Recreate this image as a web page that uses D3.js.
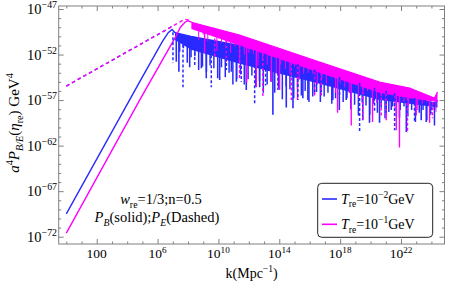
<!DOCTYPE html>
<html>
<head>
<meta charset="utf-8">
<script src="https://cdn.jsdelivr.net/npm/d3@7"></script>
<style>
  body { margin: 0; background: #fff; }
  svg { display: block; font-family: "Liberation Serif", "DejaVu Serif", serif; }
</style>
</head>
<body>
<div id="chart"></div>
<script>
// all values are log10 exponents: [log10 k, log10 a^4 P]
// rising parts (before the oscillations)
const riseBlueB = [[0, -69.5], [4.82, -55.0], [6.3, -50.6], [6.7, -49.6], [6.95, -49.25], [7.15, -49.6]]
const riseMagB = [[0, -71.6], [4.82, -57.0], [7.2, -50.0], [7.5, -49.0], [7.8, -48.45], [8.0, -48.3], [8.22, -48.45]]
const riseMagE = [[0, -55.46], [7.78, -48.13], [8.0, -48.2], [8.22, -48.45]]
const riseBlueE = [[0, -55.46], [6.9, -48.97], [7.05, -49.2]]

// oscillating part: upper envelope and lower edge of the dense band
const topMag = [[8.22, -48.45], [11.39, -49.86], [16.65, -52.82], [20.59, -55.02], [22.56, -55.68], [24.2, -56.78], [24.4, -56.12]]
const floorMag = [[8.22, -49.2], [11.39, -51.0], [16.65, -54.0], [20.59, -56.2], [22.56, -56.8], [24.4, -57.2]]
const topBlue = [[7.15, -49.6], [8.2, -50.0], [11.39, -51.0], [16.65, -53.8], [20.59, -55.8], [24.2, -57.3], [24.4, -57.0]]
const floorBlue = [[7.15, -50.4], [8.76, -52.05], [11.39, -53.0], [16.65, -55.2], [20.59, -57.0], [24.4, -57.8]]

// oscillation minima below the band: [log10 k, lowest log10 value]
const combBlue = [[7.2, -50.2], [7.45, -51.7], [7.7, -51.3], [7.95, -52.9], [8.2, -52.3], [8.45, -52.2], [8.7, -53.7],
  [8.95, -53.3], [9.2, -54.6], [9.45, -53.2], [9.7, -53.5], [9.95, -54.6], [10.2, -53.4], [10.45, -54.5], [10.7, -54.0],
  [10.95, -55.3], [11.2, -54.7], [11.45, -54.2], [11.7, -55.3], [11.95, -54.7], [12.2, -54.3], [12.45, -55.5],
  [12.7, -54.9], [12.95, -56.2], [13.2, -55.3], [13.45, -55.0], [13.7, -56.2], [13.95, -55.7], [14.2, -56.9],
  [14.45, -55.5], [14.7, -55.8], [14.95, -56.8], [15.2, -55.6], [15.45, -56.5], [15.7, -56.0], [15.95, -57.2],
  [16.2, -56.6], [16.45, -56.1], [16.7, -57.2], [16.95, -56.6], [17.2, -56.2], [17.45, -57.4], [17.7, -56.8],
  [17.95, -58.1], [18.2, -57.2], [18.45, -56.8], [18.7, -58.0], [18.95, -57.5], [19.2, -58.7], [19.45, -57.3],
  [19.7, -57.6], [19.95, -58.6], [20.2, -57.4], [20.45, -58.4], [20.7, -57.8], [20.95, -59.0], [21.2, -58.3],
  [21.45, -57.7], [21.7, -58.8], [21.95, -58.1], [22.2, -57.7], [22.45, -58.8], [22.7, -58.1], [22.95, -59.4],
  [23.2, -58.4], [23.45, -58.1], [23.7, -59.2], [23.95, -58.6], [24.2, -59.8]]
const combMag = [[8.4, -49.1], [8.7, -50.4], [9.0, -49.8], [9.3, -50.5], [9.6, -49.8], [9.9, -51.6], [10.2, -50.7],
  [10.5, -51.2], [10.8, -51.8], [11.1, -51.1], [11.4, -52.6], [11.7, -52.0], [12.0, -51.8], [12.3, -51.9], [12.6, -53.2],
  [12.9, -52.5], [13.2, -53.1], [13.5, -52.4], [13.8, -54.1], [14.1, -53.1], [14.4, -53.6], [14.7, -54.1], [15.0, -53.3],
  [15.3, -54.8], [15.6, -54.1], [15.9, -54.0], [16.2, -54.1], [16.5, -55.3], [16.8, -54.7], [17.1, -55.2], [17.4, -54.5],
  [17.7, -56.2], [18.0, -55.2], [18.3, -55.6], [18.6, -56.2], [18.9, -55.3], [19.2, -56.8], [19.5, -56.2], [19.8, -56.0],
  [20.1, -56.1], [20.4, -57.3], [20.7, -56.6], [21.0, -57.1], [21.3, -56.3], [21.6, -58.0], [21.9, -56.8], [22.2, -57.2],
  [22.5, -57.7], [22.8, -56.7], [23.1, -58.1], [23.4, -57.4], [23.7, -57.2], [24.0, -57.1], [24.3, -58.3]]

// deepest dips of each curve
const dipsBlueB = [[7.23, -52.8], [7.40, -53.9], [8.11, -53.4], [8.88, -53.5], [9.21, -53.9], [10.08, -54.8], [10.85, -53.9],
  [11.18, -55.0], [11.83, -55.9], [12.71, -55.6], [13.58, -58.6], [14.46, -57.8], [14.90, -57.9], [15.55, -56.8],
  [15.88, -57.0], [16.76, -56.1], [17.52, -57.0], [18.40, -57.0], [18.62, -56.2], [19.49, -59.2], [19.93, -59.5],
  [20.59, -59.5], [21.36, -58.1], [21.90, -58.9], [22.35, -60.5], [23.33, -59.2], [23.66, -59.4], [24.20, -58.1]]
const dipsBlueE = [[7.01, -52.9], [7.67, -55.6], [8.44, -53.2], [9.53, -55.6], [10.52, -53.7], [11.50, -55.0], [12.38, -57.5],
  [13.10, -55.4], [13.91, -55.9], [15.22, -57.0], [16.32, -56.2], [17.96, -56.7], [19.28, -60.6], [20.26, -58.4],
  [21.03, -58.4], [21.58, -60.3], [22.89, -59.5], [23.99, -58.4]]
const dipsMagB = [[9.09, -51.8], [10.52, -52.8], [11.85, -55.1], [12.49, -55.6], [13.48, -55.0], [14.02, -55.9], [15.20, -57.0],
  [16.32, -56.5], [17.83, -58.4], [18.73, -59.8], [20.13, -59.4], [21.03, -59.2], [21.69, -60.3], [21.90, -62.2],
  [23.00, -58.7], [23.88, -59.5]]
const dipsMagE = [[9.75, -52.4], [11.39, -54.8], [12.92, -56.7], [14.79, -57.0], [16.76, -56.7], [19.49, -59.2],
  [20.70, -58.7], [22.43, -60.6], [24.07, -59.0]]

const xMajor = [2, 6, 10, 14, 18, 22]
const yMajor = [-47, -52, -57, -62, -67, -72]
const legendItems = [
  { color: "#2a2aff", exp: "\u22122" },
  { color: "#ff00ff", exp: "\u22121" }
]

const W = 449, H = 289
const m = { left: 58.7, right: 444.5, top: 6, bottom: 244 }
const blue = "#2a2aff", mag = "#ff00ff", frame = "#808080"
const p10 = e => Math.pow(10, e)

const svg = d3.select("#chart").append("svg")
  .attr("width", W).attr("height", H)

const x = d3.scaleLog().domain([p10(-0.5), p10(24.86)]).range([m.left, m.right])
const y = d3.scaleLog().domain([p10(-72.8), p10(-46.67)]).range([m.bottom, m.top])

const line = d3.line().x(d => x(p10(d[0]))).y(d => y(p10(d[1])))

// value of a polyline at k (to hang the dips from the envelope)
function lookup(arr, k) {
  for (let i = 1; i < arr.length; i++) {
    if (k <= arr[i][0]) {
      const a = arr[i - 1], b = arr[i]
      return a[1] + (b[1] - a[1]) * (k - a[0]) / (b[0] - a[0])
    }
  }
  return arr[arr.length - 1][1]
}

svg.append("clipPath").attr("id", "clip").append("rect")
  .attr("x", m.left).attr("y", m.top).attr("width", m.right - m.left).attr("height", m.bottom - m.top)
const plot = svg.append("g").attr("clip-path", "url(#clip)")

function band(color, top, floor) {
  const area = d3.area()
    .x(d => x(p10(d[0])))
    .y0(d => y(p10(lookup(floor, d[0]))))
    .y1(d => y(p10(d[1])))
  plot.append("path").datum(top).attr("d", area).attr("fill", color)
  plot.append("path").datum(top).attr("d", line).attr("fill", "none").attr("stroke", color).attr("stroke-width", 1.2)
}

function dips(color, top, data, width, dashed) {
  plot.append("g").selectAll("line").data(data).join("line")
    .attr("x1", d => x(p10(d[0]))).attr("x2", d => x(p10(d[0])))
    .attr("y1", d => y(p10(lookup(top, d[0]))))
    .attr("y2", d => y(p10(d[1])))
    .attr("stroke", color).attr("stroke-width", width)
    .attr("stroke-dasharray", dashed ? "3,2" : null)
}

function rise(color, data, dashed) {
  plot.append("path").datum(data).attr("d", line)
    .attr("fill", "none").attr("stroke", color).attr("stroke-width", 1.4)
    .attr("stroke-dasharray", dashed ? "3.5,3" : null)
}

// P_B curves first, then P_E curves (dashed) on top
band(blue, topBlue, floorBlue)
dips(blue, topBlue, combBlue, 1.5, false)
dips(blue, topBlue, dipsBlueB, 1.6, false)
rise(blue, riseBlueB, false)
band(mag, topMag, floorMag)
dips(mag, topMag, combMag, 1.0, false)
dips(mag, topMag, dipsMagB, 1.4, false)
rise(mag, riseMagB, false)
dips(blue, topBlue, dipsBlueE, 1.5, true)
rise(blue, riseBlueE, true)
dips(mag, topMag, dipsMagE, 1.4, true)
rise(mag, riseMagE, true)

// frame
svg.append("rect").attr("x", m.left).attr("y", m.top)
  .attr("width", m.right - m.left).attr("height", m.bottom - m.top)
  .attr("fill", "none").attr("stroke", frame).attr("stroke-width", 1)

const xMinor = d3.range(0, 25).filter(e => !xMajor.includes(e))
const yMinor = d3.range(-72, -46).filter(e => !yMajor.includes(e))

function ticks(axisFn, scale, vals, size, tr) {
  const g = svg.append("g").attr("transform", tr)
    .call(axisFn(scale).tickValues(vals.map(p10)).tickSize(size).tickFormat(""))
  g.select(".domain").remove()
  g.selectAll(".tick line").attr("stroke", frame)
  g.selectAll(".tick text").remove()
}
ticks(d3.axisBottom, x, xMajor, -5, `translate(0,${m.bottom})`)
ticks(d3.axisBottom, x, xMinor, -2.5, `translate(0,${m.bottom})`)
ticks(d3.axisTop, x, xMajor, -5, `translate(0,${m.top})`)
ticks(d3.axisTop, x, xMinor, -2.5, `translate(0,${m.top})`)
ticks(d3.axisLeft, y, yMajor, -5, `translate(${m.left},0)`)
ticks(d3.axisLeft, y, yMinor, -2.5, `translate(${m.left},0)`)
ticks(d3.axisRight, y, yMajor, -5, `translate(${m.right},0)`)
ticks(d3.axisRight, y, yMinor, -2.5, `translate(${m.right},0)`)

// rich text helper: parts of {t, i, sub, sup}
function rich(sel, parts, fs) {
  let shift = 0
  parts.forEach(p => {
    const target = p.sub ? fs * 0.28 : p.sup ? -fs * 0.4 : 0
    sel.append("tspan")
      .attr("dy", target - shift)
      .attr("font-size", (p.sub || p.sup) ? fs * 0.68 : fs)
      .attr("font-style", p.i ? "italic" : "normal")
      .text(p.t)
    shift = target
  })
  return sel
}

// tick labels
xMajor.forEach(e => {
  const t = svg.append("text").attr("x", x(p10(e))).attr("y", 258)
    .attr("text-anchor", "middle").attr("font-size", 13.5)
  if (e === 2) t.text("100")
  else rich(t, [{ t: "10" }, { t: String(e), sup: true }], 13.5)
})
yMajor.forEach(e => {
  const t = svg.append("text").attr("x", 57).attr("y", y(p10(e)) + 5)
    .attr("text-anchor", "end").attr("font-size", 14.5)
  rich(t, [{ t: "10" }, { t: "\u2212" + (-e), sup: true }], 14.5)
})

// axis titles
rich(svg.append("text").attr("x", (m.left + m.right) / 2).attr("y", 278)
  .attr("text-anchor", "middle").attr("font-size", 14),
  [{ t: "k(Mpc" }, { t: "\u22121", sup: true }, { t: ")" }], 14)

rich(svg.append("text").attr("transform", "translate(19,123) rotate(-90)")
  .attr("text-anchor", "middle").attr("font-size", 15),
  [{ t: "a", i: true }, { t: "4", sup: true }, { t: "P", i: true }, { t: "B/E", sub: true, i: true },
   { t: "(" }, { t: "\u03b7", i: true }, { t: "re", sub: true }, { t: ")  GeV" }, { t: "4", sup: true }], 15)

// annotation
rich(svg.append("text").attr("x", 161).attr("y", 204).attr("text-anchor", "middle").attr("font-size", 14.5),
  [{ t: "w", i: true }, { t: "re", sub: true }, { t: "=1/3;n=0.5" }], 14.5)
rich(svg.append("text").attr("x", 157).attr("y", 222).attr("text-anchor", "middle").attr("font-size", 14.5),
  [{ t: "P", i: true }, { t: "B", sub: true, i: true }, { t: "(solid);" }, { t: "P", i: true }, { t: "E", sub: true, i: true }, { t: "(Dashed)" }], 14.5)

// legend
const lg = svg.append("g")
lg.append("rect").attr("x", 317.7).attr("y", 183.3).attr("width", 115).attr("height", 54)
  .attr("rx", 4).attr("fill", "#fff").attr("stroke", "#222").attr("stroke-width", 1)
legendItems.forEach((d, i) => {
  const yy = 199 + i * 25.3
  lg.append("line").attr("x1", 322).attr("x2", 337).attr("y1", yy).attr("y2", yy)
    .attr("stroke", d.color).attr("stroke-width", 1.6)
  rich(lg.append("text").attr("x", 341).attr("y", yy + 4.5).attr("font-size", 14),
    [{ t: "T", i: true }, { t: "re", sub: true }, { t: "=10" }, { t: d.exp, sup: true }, { t: "GeV" }], 14)
})
</script>
</body>
</html>
